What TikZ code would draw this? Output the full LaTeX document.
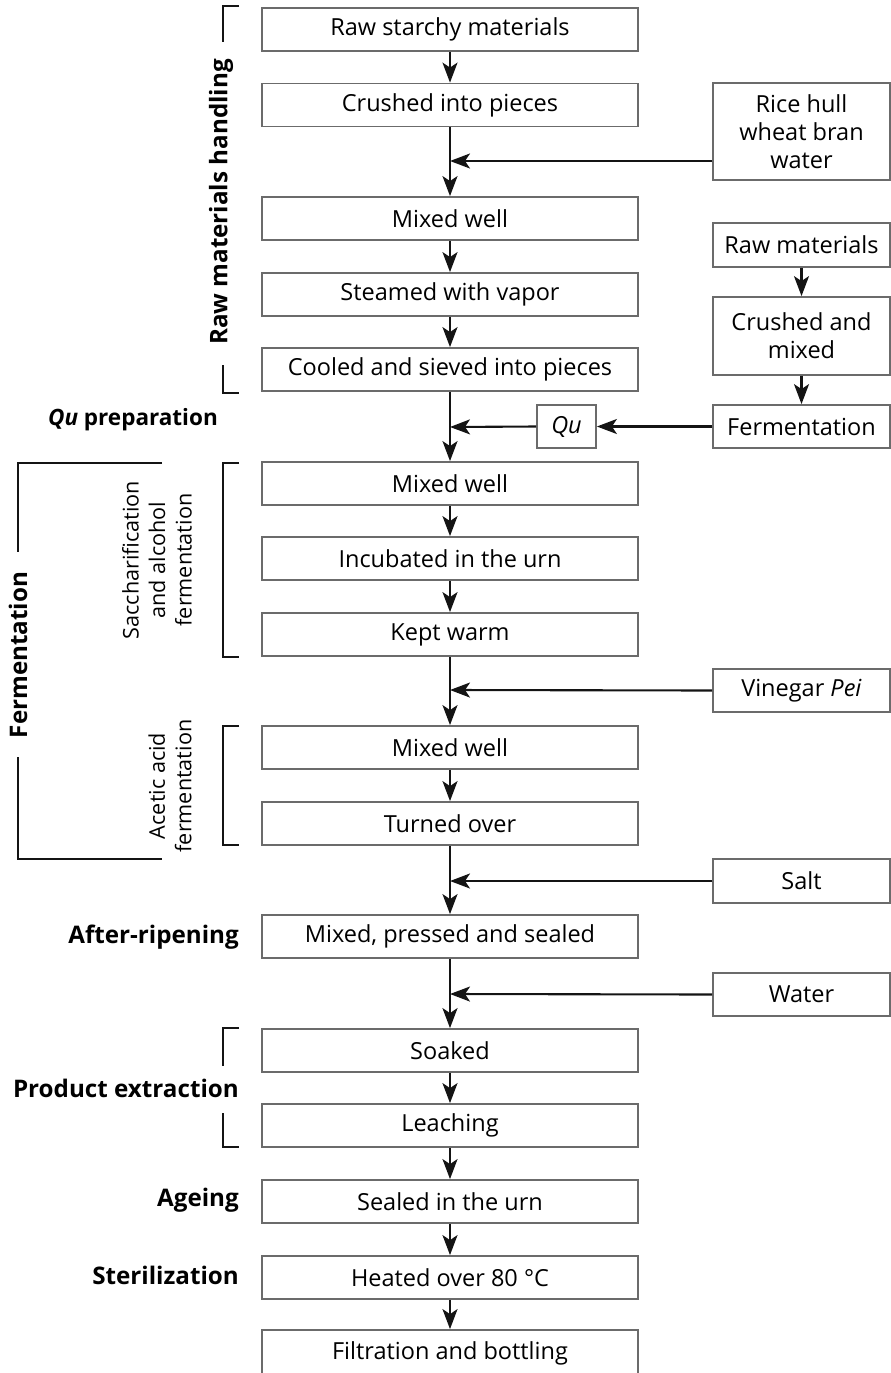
\documentclass[tikz,border=0pt]{standalone}
\usepackage{fontspec}
\setmainfont{Open Sans}
\usetikzlibrary{arrows.meta}
\newcommand\mainfs{\fontsize{23.5}{28}\selectfont}
\newcommand\vfs{\fontsize{21.6}{26.5}\selectfont}
\newcommand\labfs{\fontsize{24.2}{28}\selectfont\bfseries}
\begin{document}
\begin{tikzpicture}[x=1pt,y=-1pt,
  box/.style={draw=black!58, line width=1.8pt, minimum width=376pt, minimum height=43pt, inner sep=0pt, font=\mainfs, align=center},
  sbox/.style={draw=black!58, line width=1.8pt, minimum width=177pt, minimum height=43pt, inner sep=0pt, font=\mainfs, align=center},
  lab/.style={font=\labfs, anchor=east, inner sep=0pt},
  vlab/.style={font=\vfs, rotate=90, align=center, inner sep=0pt},
  arr/.style={line width=2.1pt, black!92, -{Stealth[length=20pt,width=15pt,inset=5pt]}},
  brk/.style={line width=2pt, black!92},
]
\useasboundingbox (0,0) rectangle (891,1373);
% main column
\node[box] (b1) at (450,29.5) {Raw starchy materials};
\node[box] (b2) at (450,105) {Crushed into pieces};
\node[box] (b3) at (450,218.5) {Mixed well};
\node[box] (b4) at (450,294.5) {Steamed with vapor};
\node[box] (b5) at (450,369.5) {Cooled and sieved into pieces};
\node[box] (b6) at (450,483.5) {Mixed well};
\node[box] (b7) at (450,558.5) {Incubated in the urn};
\node[box] (b8) at (450,634.5) {Kept warm};
\node[box] (b9) at (450,747.5) {Mixed well};
\node[box] (b10) at (450,823.5) {Turned over};
\node[box] (b11) at (450,936.5) {Mixed, pressed and sealed};
\node[box] (b12) at (450,1050.5) {Soaked};
\node[box] (b13) at (450,1125.5) {Leaching};
\node[box] (b14) at (450,1201.5) {Sealed in the urn};
\node[box] (b15) at (450,1277.5) {Heated over 80 °C};
\node[box, minimum height=46pt] (b16) at (450,1353) {Filtration and bottling};
% right column
\node[sbox, minimum height=97pt] (rice) at (801.5,131.5) {Rice hull\\wheat bran\\water};
\node[sbox, minimum height=44pt] (rm) at (801.5,245) {Raw materials};
\node[sbox, minimum height=78pt] (cm) at (801.5,336) {Crushed and\\mixed};
\node[sbox] (fe) at (801.5,426.5) {Fermentation};
\node[sbox, minimum width=59pt] (qu) at (566.5,426.5) {\textit{Qu}};
\node[sbox] (vp) at (801.5,690.5) {Vinegar \textit{Pei}};
\node[sbox, minimum height=44pt] (salt) at (801.5,881) {Salt};
\node[sbox] (water) at (801.5,994.5) {Water};
% junctions
\coordinate (j1) at (450,161);
\coordinate (j2) at (450,427);
\coordinate (j3) at (450,690);
\coordinate (j4) at (450,881);
\coordinate (j5) at (450,994);
% connectors
\draw[arr] (b1) -- (b2);
\draw[arr] (b2) -- (b3);
\draw[arr] (rice.west |- j1) -- (j1);
\draw[arr] (b3) -- (b4);
\draw[arr] (b4) -- (b5);
\draw[arr] (b5) -- (b6);
\draw[arr] (rm) -- (cm);
\draw[arr] (cm) -- (fe);
\draw[arr] (fe) -- (qu);
\draw[arr] (qu.west) -- (j2);
\draw[arr] (b6) -- (b7);
\draw[arr] (b7) -- (b8);
\draw[arr] (b8) -- (b9);
\draw[arr] (vp.west) -- (j3);
\draw[arr] (b9) -- (b10);
\draw[arr] (b10) -- (b11);
\draw[arr] (salt.west) -- (j4);
\draw[arr] (b11) -- (b12);
\draw[arr] (water.west) -- (j5);
\draw[arr] (b12) -- (b13);
\draw[arr] (b13) -- (b14);
\draw[arr] (b14) -- (b15);
\draw[arr] (b15) -- (b16);
% brackets and labels
\draw[brk] (239,6) -- (223,6) -- (223,42);
\draw[brk] (223,365) -- (223,393) -- (239,393);
\node[font=\labfs, rotate=90, inner sep=0pt] (rmh) at (221,202) {Raw materials handling};
\node[lab, font=\fontsize{22.5}{28}\selectfont\bfseries] (qup) at (218,420) {\textit{Qu} preparation};
\draw[brk] (162,463) -- (18,463) -- (18,552);
\draw[brk] (18,757) -- (18,859) -- (162,859);
\node[font=\labfs, rotate=90, inner sep=0pt] (ferm) at (18,655) {Fermentation};
\draw[brk] (239,463) -- (223,463) -- (223,657) -- (239,657);
\node[vlab] (sacc) at (157,560) {Saccharification\\and alcohol\\fermentation};
\draw[brk] (239,726) -- (223,726) -- (223,845) -- (239,845);
\node[vlab] (acet) at (170,786) {Acetic acid\\fermentation};
\node[lab] (after) at (239,937) {After-ripening};
\draw[brk] (239,1028) -- (223,1028) -- (223,1066);
\draw[brk] (223,1113) -- (223,1147) -- (239,1147);
\node[lab] (prod) at (239,1088) {Product extraction};
\node[lab] (age) at (239,1200) {Ageing};
\node[lab] (ster) at (239,1275) {Sterilization};
\end{tikzpicture}
\end{document}
